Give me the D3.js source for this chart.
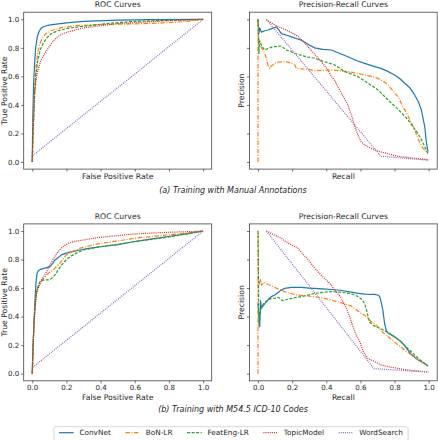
<!DOCTYPE html>
<html><head><meta charset="utf-8">
<script src="https://cdn.jsdelivr.net/npm/d3@7"></script>
<style>
html,body{margin:0;padding:0;background:#fff;}
svg{display:block;font-family:"DejaVu Sans",sans-serif;}
</style></head>
<body><svg id="chart" width="438" height="440"></svg>
<script>
// ---------- data ----------
const seriesNames = ["ConvNet","BoN-LR","FeatEng-LR","TopicModel","WordSearch"];
const seriesColors = ["#1f77b4","#ff7f0e","#2ca02c","#d62728","#9467bd"];
const seriesDash = [null,"4.5,1.5,1,1.5","3,1.5","1,1.1","1,1.1"];
const tickValues = [0,0.2,0.4,0.6,0.8,1.0];
const panelTitles = ["ROC Curves","Precision-Recall Curves"];
const xLabels = ["False Positive Rate","Recall"];
const yLabels = ["True Positive Rate","Precision"];
const captions = ["(a) Training with Manual Annotations","(b) Training with M54.5 ICD-10 Codes"];

// (a) manual annotations - ROC
const rocA_ConvNet = [[0,0],[0.003,0.3],[0.008,0.55],[0.015,0.72],[0.02,0.8],[0.03,0.88],[0.04,0.915],[0.05,0.935],[0.065,0.948],[0.09,0.957],[0.13,0.965],[0.2,0.975],[0.3,0.985],[0.5,0.995],[0.7,0.998],[1,1]];
const rocA_BoN = [[0,0],[0.005,0.25],[0.012,0.45],[0.018,0.6],[0.025,0.7],[0.035,0.78],[0.045,0.83],[0.06,0.87],[0.08,0.9],[0.11,0.92],[0.17,0.942],[0.25,0.955],[0.37,0.963],[0.5,0.966],[0.6,0.968],[0.75,0.974],[0.9,0.985],[1,1]];
const rocA_FeatEng = [[0,0],[0.005,0.2],[0.014,0.48],[0.022,0.62],[0.034,0.72],[0.048,0.79],[0.063,0.83],[0.085,0.87],[0.111,0.9],[0.15,0.92],[0.209,0.937],[0.3,0.952],[0.366,0.96],[0.45,0.972],[0.56,0.983],[0.7,0.99],[0.85,0.995],[1,1]];
const rocA_Topic = [[0,0],[0.004,0.18],[0.01,0.35],[0.014,0.48],[0.022,0.57],[0.033,0.645],[0.05,0.71],[0.072,0.76],[0.1,0.81],[0.125,0.85],[0.15,0.88],[0.18,0.9],[0.21,0.913],[0.3,0.94],[0.4,0.955],[0.5,0.97],[0.65,0.98],[0.8,0.99],[1,1]];
const rocA_Word = [[0.003,0.045],[1,1]];

// (a) manual annotations - PR
const prA_ConvNet = [[0,1],[0.005,0.9],[0.01,0.94],[0.02,0.91],[0.04,0.92],[0.06,0.925],[0.08,0.935],[0.107,0.947],[0.12,0.93],[0.137,0.9],[0.165,0.89],[0.195,0.877],[0.254,0.853],[0.3,0.82],[0.332,0.8],[0.38,0.79],[0.43,0.785],[0.48,0.76],[0.527,0.738],[0.58,0.71],[0.625,0.691],[0.68,0.67],[0.72,0.656],[0.76,0.635],[0.8,0.61],[0.83,0.585],[0.86,0.552],[0.89,0.52],[0.918,0.47],[0.94,0.42],[0.957,0.365],[0.968,0.3],[0.977,0.248],[0.986,0.143],[0.996,0.073]];
const prA_BoN = [[0,0],[0,1],[0.005,0.85],[0.01,0.83],[0.02,0.8],[0.03,0.785],[0.04,0.76],[0.049,0.726],[0.058,0.68],[0.068,0.656],[0.08,0.675],[0.098,0.691],[0.12,0.7],[0.15,0.703],[0.176,0.7],[0.2,0.69],[0.215,0.68],[0.225,0.656],[0.26,0.652],[0.293,0.65],[0.332,0.64],[0.38,0.642],[0.43,0.645],[0.48,0.64],[0.527,0.633],[0.58,0.622],[0.625,0.61],[0.67,0.598],[0.703,0.586],[0.74,0.56],[0.762,0.54],[0.79,0.5],[0.82,0.458],[0.84,0.41],[0.86,0.365],[0.88,0.32],[0.9,0.271],[0.92,0.22],[0.937,0.166],[0.955,0.12],[0.967,0.096],[0.996,0.061]];
const prA_FeatEng = [[0,1],[0.005,0.76],[0.01,0.85],[0.02,0.82],[0.03,0.8],[0.039,0.785],[0.059,0.796],[0.08,0.805],[0.098,0.808],[0.12,0.812],[0.137,0.813],[0.15,0.8],[0.166,0.785],[0.19,0.775],[0.215,0.762],[0.26,0.745],[0.293,0.735],[0.332,0.727],[0.39,0.703],[0.45,0.68],[0.508,0.633],[0.55,0.615],[0.586,0.598],[0.645,0.552],[0.703,0.505],[0.762,0.435],[0.82,0.37],[0.879,0.295],[0.937,0.2],[0.96,0.15],[0.977,0.107],[0.996,0.058]];
const prA_Topic = [[0.049,0.995],[0.1,0.96],[0.137,0.94],[0.19,0.91],[0.235,0.88],[0.265,0.845],[0.293,0.807],[0.32,0.77],[0.352,0.73],[0.38,0.69],[0.41,0.645],[0.43,0.6],[0.45,0.57],[0.47,0.52],[0.49,0.48],[0.508,0.44],[0.527,0.4],[0.537,0.36],[0.547,0.33],[0.557,0.29],[0.566,0.25],[0.578,0.21],[0.586,0.19],[0.596,0.16],[0.605,0.14],[0.625,0.12],[0.645,0.107],[0.664,0.095],[0.684,0.084],[0.72,0.07],[0.762,0.058],[0.8,0.045],[0.84,0.037],[0.918,0.026],[1.0,0.015]];
const prA_Word = [[0.049,1.0],[0.72,0.04],[1.0,0.012]];

// (b) M54.5 ICD-10 codes - ROC
const rocB_ConvNet = [[0,0],[0.005,0.2],[0.01,0.35],[0.016,0.516],[0.022,0.64],[0.028,0.703],[0.035,0.722],[0.047,0.731],[0.075,0.74],[0.104,0.75],[0.118,0.77],[0.133,0.797],[0.15,0.812],[0.174,0.835],[0.2,0.845],[0.24,0.857],[0.279,0.867],[0.33,0.878],[0.397,0.89],[0.5,0.905],[0.592,0.925],[0.7,0.945],[0.787,0.96],[0.9,0.98],[1,1]];
const rocB_BoN = [[0,0],[0.005,0.2],[0.012,0.4],[0.02,0.52],[0.026,0.586],[0.045,0.633],[0.065,0.665],[0.084,0.692],[0.1,0.71],[0.123,0.727],[0.14,0.75],[0.162,0.774],[0.18,0.805],[0.2,0.832],[0.24,0.86],[0.279,0.879],[0.33,0.895],[0.397,0.914],[0.5,0.93],[0.592,0.949],[0.7,0.962],[0.787,0.972],[0.9,0.985],[1,1]];
const rocB_FeatEng = [[0,0],[0.005,0.2],[0.012,0.4],[0.02,0.52],[0.026,0.586],[0.045,0.645],[0.06,0.655],[0.075,0.657],[0.095,0.658],[0.104,0.66],[0.12,0.675],[0.133,0.692],[0.15,0.725],[0.172,0.762],[0.2,0.8],[0.221,0.82],[0.26,0.847],[0.299,0.867],[0.397,0.89],[0.5,0.905],[0.592,0.925],[0.7,0.942],[0.787,0.956],[0.9,0.978],[1,1]];
const rocB_Topic = [[0,0],[0.005,0.2],[0.012,0.38],[0.02,0.5],[0.026,0.563],[0.04,0.615],[0.055,0.657],[0.07,0.688],[0.084,0.715],[0.1,0.755],[0.114,0.785],[0.13,0.818],[0.143,0.843],[0.16,0.867],[0.172,0.883],[0.19,0.9],[0.211,0.914],[0.25,0.928],[0.299,0.937],[0.35,0.948],[0.397,0.956],[0.5,0.968],[0.592,0.979],[0.7,0.986],[0.787,0.991],[0.9,0.995],[1,1]];
const rocB_Word = [[0.003,0.045],[1,1]];

// (b) M54.5 ICD-10 codes - PR
const prB_ConvNet = [[0,0.49],[0.005,0.4],[0.01,0.33],[0.015,0.51],[0.02,0.46],[0.039,0.49],[0.06,0.52],[0.078,0.54],[0.098,0.551],[0.137,0.586],[0.156,0.598],[0.195,0.605],[0.254,0.605],[0.3,0.6],[0.332,0.598],[0.38,0.595],[0.43,0.59],[0.48,0.585],[0.527,0.575],[0.58,0.565],[0.625,0.558],[0.684,0.556],[0.705,0.55],[0.713,0.54],[0.722,0.5],[0.732,0.44],[0.742,0.35],[0.752,0.3],[0.762,0.285],[0.781,0.272],[0.8,0.258],[0.82,0.242],[0.84,0.222],[0.86,0.195],[0.879,0.165],[0.898,0.135],[0.937,0.098],[0.97,0.075],[0.996,0.055]];
const prB_BoN = [[0,0],[0,1],[0.003,0.65],[0.008,0.63],[0.015,0.66],[0.02,0.62],[0.035,0.64],[0.059,0.625],[0.08,0.615],[0.107,0.6],[0.137,0.586],[0.156,0.575],[0.2,0.56],[0.234,0.551],[0.29,0.545],[0.332,0.54],[0.38,0.53],[0.43,0.516],[0.48,0.5],[0.527,0.481],[0.547,0.475],[0.58,0.445],[0.605,0.423],[0.625,0.41],[0.664,0.364],[0.684,0.35],[0.723,0.3],[0.75,0.27],[0.781,0.24],[0.81,0.212],[0.84,0.185],[0.859,0.165],[0.898,0.133],[0.93,0.105],[0.957,0.084],[0.996,0.056]];
const prB_FeatEng = [[0,1],[0.003,0.6],[0.006,0.33],[0.01,0.42],[0.02,0.47],[0.039,0.5],[0.059,0.515],[0.078,0.528],[0.1,0.53],[0.117,0.535],[0.137,0.52],[0.146,0.51],[0.156,0.516],[0.195,0.528],[0.254,0.54],[0.332,0.563],[0.38,0.57],[0.43,0.575],[0.48,0.572],[0.527,0.563],[0.56,0.555],[0.586,0.54],[0.61,0.52],[0.625,0.49],[0.635,0.45],[0.645,0.4],[0.654,0.36],[0.68,0.335],[0.72,0.315],[0.76,0.29],[0.8,0.258],[0.84,0.222],[0.879,0.175],[0.91,0.14],[0.937,0.11],[0.96,0.087],[0.996,0.054]];
const prB_Topic = [[0.049,1.0],[0.1,0.97],[0.137,0.949],[0.156,0.93],[0.2,0.9],[0.234,0.88],[0.254,0.85],[0.293,0.8],[0.332,0.74],[0.37,0.69],[0.41,0.645],[0.43,0.62],[0.449,0.586],[0.469,0.56],[0.488,0.53],[0.5,0.5],[0.518,0.46],[0.537,0.4],[0.557,0.33],[0.566,0.3],[0.576,0.27],[0.596,0.225],[0.615,0.16],[0.625,0.14],[0.645,0.105],[0.684,0.085],[0.723,0.06],[0.781,0.045],[0.84,0.033],[0.9,0.022],[0.996,0.012]];
const prB_Word = [[0.049,1.0],[0.68,0.035],[1.0,0.012]];

// ---------- layout ----------
const svg = d3.select("#chart");
const txt = "#262626";
const colsX = [[23.7,211.7],[249.5,437.2]];
const rowsY = [[12.2,169.1],[223.9,380.8]];

const panels = [
  {col:0,row:0,series:[rocA_ConvNet,rocA_BoN,rocA_FeatEng,rocA_Topic,rocA_Word],xTickLabels:false,yTickLabels:true},
  {col:1,row:0,series:[prA_ConvNet,prA_BoN,prA_FeatEng,prA_Topic,prA_Word],xTickLabels:false,yTickLabels:false},
  {col:0,row:1,series:[rocB_ConvNet,rocB_BoN,rocB_FeatEng,rocB_Topic,rocB_Word],xTickLabels:true,yTickLabels:true},
  {col:1,row:1,series:[prB_ConvNet,prB_BoN,prB_FeatEng,prB_Topic,prB_Word],xTickLabels:true,yTickLabels:false}
];

const labelFs = "7.7px";
panels.forEach(p => {
  const [x0,x1] = colsX[p.col], [y0,y1] = rowsY[p.row];
  const x = d3.scaleLinear().domain([-0.05,1.05]).range([x0,x1]);
  const y = d3.scaleLinear().domain([-0.05,1.05]).range([y1,y0]);
  const g = svg.append("g");

  const fmt = d3.format(".1f");
  const xa = d3.axisBottom(x).tickValues(tickValues).tickSize(2.5).tickPadding(2)
    .tickFormat(p.xTickLabels ? fmt : () => "");
  const ya = d3.axisLeft(y).tickValues(tickValues).tickSize(2.5).tickPadding(2)
    .tickFormat(p.yTickLabels ? fmt : () => "");
  const gx = g.append("g").attr("transform",`translate(0,${y1})`).call(xa);
  const gy = g.append("g").attr("transform",`translate(${x0},0)`).call(ya);
  [gx,gy].forEach(a => {
    a.select(".domain").remove();
    a.selectAll("line").attr("stroke","#333").attr("stroke-width",0.7);
    a.selectAll("text").attr("fill",txt).style("font-size","7.1px").style("font-family","DejaVu Sans");
  });

  const line = d3.line().x(d => x(d[0])).y(d => y(d[1]));
  p.series.forEach((s,i) => {
    g.append("path").datum(s).attr("d",line).attr("fill","none")
      .attr("stroke",seriesColors[i]).attr("stroke-width",1.2)
      .attr("stroke-linejoin","round")
      .attr("stroke-dasharray",seriesDash[i]);
  });

  g.append("rect").attr("x",x0).attr("y",y0).attr("width",x1-x0).attr("height",y1-y0)
    .attr("fill","none").attr("stroke","#444").attr("stroke-width",0.8);

  const cx = (x0+x1)/2, cy=(y0+y1)/2;
  g.append("text").attr("x",cx).attr("y",y0-5).attr("text-anchor","middle")
    .attr("fill",txt).style("font-size",labelFs).text(panelTitles[p.col]);
  g.append("text").attr("x",cx).attr("y",p.xTickLabels ? y1+18.8 : y1+9.8).attr("text-anchor","middle")
    .attr("fill",txt).style("font-size",labelFs).text(xLabels[p.col]);
  const ylx = p.yTickLabels ? x0-16.5 : x0-5.5;
  g.append("text").attr("transform",`translate(${ylx},${cy}) rotate(-90)`).attr("text-anchor","middle")
    .attr("fill",txt).style("font-size",labelFs).text(yLabels[p.col]);
});

// captions
[192.5,412].forEach((yy,i) => {
  svg.append("text").attr("x",233).attr("y",yy).attr("text-anchor","middle")
    .attr("fill",txt).style("font-size","8px").style("font-style","italic").text(captions[i]);
});

// legend
const lg = svg.append("g");
const fs = 7.3, handleLen = 2*fs, handlePad = 0.8*fs, colSp = 2*fs, pad = 0.7*fs;
const legY = 432.7;
const items = [];
seriesNames.forEach((n,i) => {
  const t = lg.append("text").attr("y",legY+2.5).attr("fill",txt).style("font-size",fs+"px").text(n);
  const w = t.node().getComputedTextLength();
  items.push({t,w,i});
});
const total = items.reduce((a,b)=>a+b.w,0) + items.length*(handleLen+handlePad) + (items.length-1)*colSp + 2*pad;
const legX0 = 233 - total/2 - 2;
lg.insert("rect",":first-child").attr("x",legX0).attr("y",426.7).attr("width",total).attr("height",14)
  .attr("rx",2).attr("fill","#fff").attr("stroke","#cccccc").attr("stroke-width",0.8);
let cur = legX0 + pad;
items.forEach(it => {
  lg.append("line").attr("x1",cur).attr("x2",cur+handleLen).attr("y1",legY).attr("y2",legY)
    .attr("stroke",seriesColors[it.i]).attr("stroke-width",1.2).attr("stroke-dasharray",seriesDash[it.i]);
  it.t.attr("x",cur+handleLen+handlePad);
  cur += handleLen + handlePad + it.w + colSp;
});
</script></body></html>
